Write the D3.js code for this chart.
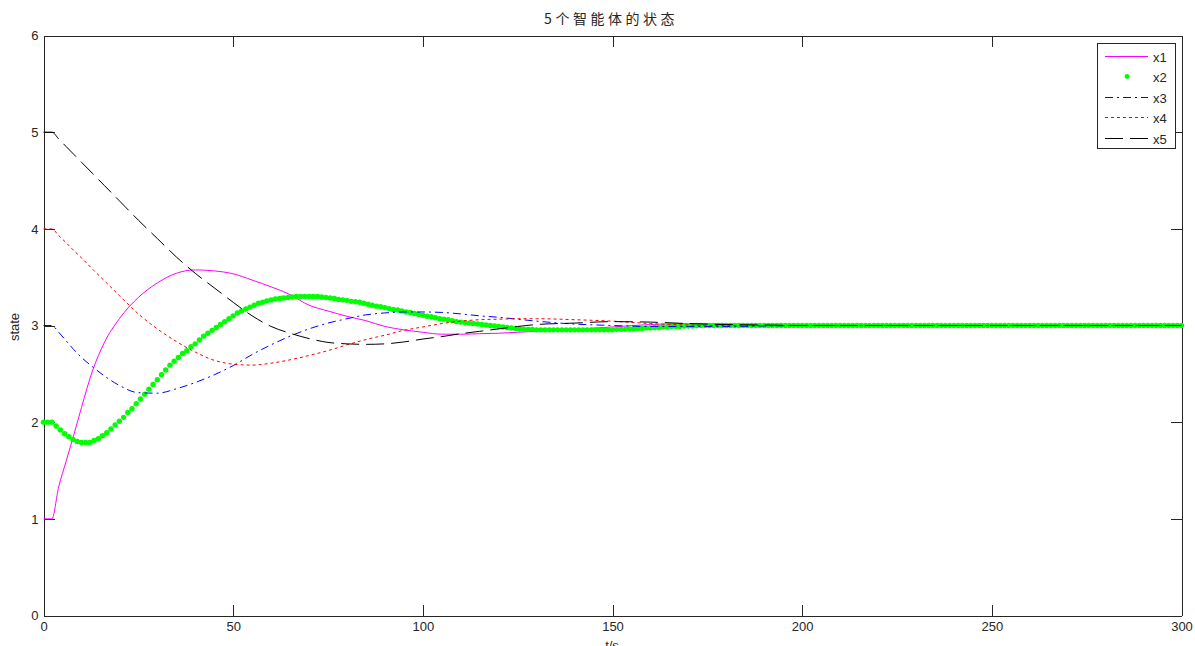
<!DOCTYPE html>
<html lang="zh">
<head>
<meta charset="UTF-8">
<title>5个智能体的状态</title>
<script src="https://cdn.jsdelivr.net/npm/d3@7"></script>
<style>
  body { margin: 0; background: #fff; }
  text { font-family: "Liberation Sans", Arial, sans-serif; fill: #262626; }
</style>
</head>
<body>
<script>
  // sample times for the line series
  var tKnots = [0, 2.2, 4, 6, 8, 10, 13, 16, 20, 25, 30, 35, 40, 45, 50, 55, 60, 65, 70, 75, 80, 85, 90, 95,
    100, 105, 110, 115, 120, 125, 130, 140, 150, 160, 170, 180, 190, 200, 225, 250, 275, 300];

  var x1 = [1.0, 1.0, 1.33, 1.6, 1.87, 2.15, 2.54, 2.82, 3.07, 3.29, 3.44, 3.54, 3.575, 3.565, 3.535, 3.47,
    3.40, 3.32, 3.21, 3.15, 3.095, 3.05, 2.99, 2.955, 2.93, 2.91, 2.91, 2.915, 2.92, 2.93, 2.94,
    2.96, 2.985, 3.01, 3.02, 3.015, 3.01, 3.005, 3.0, 3.0, 3.0, 3.0];
  var x3 = [3.0, 3.0, 2.93, 2.84, 2.75, 2.67, 2.57, 2.48, 2.38, 2.305, 2.30, 2.345, 2.41, 2.49, 2.585, 2.70,
    2.80, 2.89, 2.965, 3.025, 3.07, 3.11, 3.13, 3.14, 3.14, 3.135, 3.12, 3.10, 3.085, 3.065, 3.045,
    3.015, 3.0, 2.99, 2.99, 2.99, 2.995, 3.0, 3.0, 3.0, 3.0, 3.0];
  var x4 = [4.0, 4.0, 3.93, 3.855, 3.775, 3.70, 3.58, 3.465, 3.31, 3.12, 2.965, 2.835, 2.725, 2.64, 2.60, 2.59,
    2.61, 2.645, 2.69, 2.74, 2.80, 2.855, 2.90, 2.95, 2.985, 3.02, 3.045, 3.06, 3.065, 3.07, 3.07,
    3.06, 3.045, 3.02, 3.005, 3.0, 3.0, 3.0, 3.0, 3.0, 3.0, 3.0];
  var x5 = [5.0, 5.0, 4.93, 4.85, 4.77, 4.69, 4.57, 4.45, 4.29, 4.09, 3.90, 3.71, 3.54, 3.39, 3.24, 3.10,
    2.99, 2.92, 2.865, 2.825, 2.81, 2.805, 2.81, 2.83, 2.86, 2.885, 2.915, 2.94, 2.965, 2.99, 3.01,
    3.025, 3.04, 3.035, 3.02, 3.01, 3.005, 3.0, 3.0, 3.0, 3.0, 3.0];

  // x2 is drawn with markers at every solver step (271 steps over 0..300)
  var x2 = [
    2.00, 2.00, 2.00, 1.96, 1.92, 1.88, 1.85, 1.82, 1.80, 1.79,
    1.79, 1.79, 1.81, 1.83, 1.86, 1.89, 1.93, 1.97, 2.01, 2.05,
    2.10, 2.14, 2.19, 2.24, 2.29, 2.34, 2.39, 2.44, 2.49, 2.54,
    2.59, 2.63, 2.67, 2.71, 2.74, 2.78, 2.81, 2.85, 2.89, 2.92,
    2.95, 2.98, 3.01, 3.04, 3.07, 3.10, 3.13, 3.15, 3.17, 3.19,
    3.21, 3.23, 3.24, 3.255, 3.265, 3.275, 3.28, 3.285, 3.29, 3.295,
    3.30, 3.30, 3.30, 3.30, 3.30, 3.30, 3.295, 3.29, 3.285, 3.28,
    3.27, 3.265, 3.26, 3.25, 3.245, 3.24, 3.23, 3.22, 3.21, 3.20,
    3.195, 3.185, 3.175, 3.165, 3.16, 3.15, 3.14, 3.135, 3.125, 3.115,
    3.105, 3.095, 3.09, 3.08, 3.07, 3.065, 3.06, 3.05, 3.04, 3.035,
    3.03, 3.025, 3.02, 3.015, 3.01, 3.005, 3.00, 2.995, 2.99, 2.985,
    2.98, 2.975, 2.97, 2.965, 2.96, 2.96, 2.96, 2.955, 2.955, 2.955,
    2.955, 2.955, 2.955, 2.955, 2.955, 2.955, 2.955, 2.955, 2.955, 2.955,
    2.955, 2.955, 2.955, 2.955, 2.955, 2.955, 2.96, 2.96, 2.96, 2.965,
    2.965, 2.97, 2.97, 2.975, 2.975, 2.98, 2.98, 2.985, 2.985, 2.99,
    2.99, 2.99, 2.995, 2.995, 2.995, 3.00, 3.00, 3.00, 3.00, 3.00,
    3.00, 3.00, 3.00, 3.00, 3.00, 3.00, 3.00, 3.00, 3.00, 3.00,
    3.00, 3.00, 3.00, 3.00, 3.00, 3.00, 3.00, 3.00, 3.00, 3.00,
    3.00, 3.00, 3.00, 3.00, 3.00, 3.00, 3.00, 3.00, 3.00, 3.00,
    3.00, 3.00, 3.00, 3.00, 3.00, 3.00, 3.00, 3.00, 3.00, 3.00,
    3.00, 3.00, 3.00, 3.00, 3.00, 3.00, 3.00, 3.00, 3.00, 3.00,
    3.00, 3.00, 3.00, 3.00, 3.00, 3.00, 3.00, 3.00, 3.00, 3.00,
    3.00, 3.00, 3.00, 3.00, 3.00, 3.00, 3.00, 3.00, 3.00, 3.00,
    3.00, 3.00, 3.00, 3.00, 3.00, 3.00, 3.00, 3.00, 3.00, 3.00,
    3.00, 3.00, 3.00, 3.00, 3.00, 3.00, 3.00, 3.00, 3.00, 3.00,
    3.00, 3.00, 3.00, 3.00, 3.00, 3.00, 3.00, 3.00, 3.00, 3.00,
    3.00, 3.00, 3.00, 3.00, 3.00, 3.00, 3.00, 3.00, 3.00, 3.00,
    3.00
  ];
  var tEnd = 300;

  var xTicks = [0, 50, 100, 150, 200, 250, 300];
  var yTicks = [0, 1, 2, 3, 4, 5, 6];
  var seriesNames = ['x1', 'x2', 'x3', 'x4', 'x5'];

  var W = 1195, H = 646;
  var svg = d3.select('body').append('svg').attr('width', W).attr('height', H);
  svg.append('rect').attr('width', W).attr('height', H).attr('fill', '#fff');

  var x = d3.scaleLinear().domain([0, 300]).range([43.5, 1181.5]);
  var y = d3.scaleLinear().domain([0, 6]).range([615.5, 35.5]);

  // axes box, ticks pointing inward
  var gx = svg.append('g').attr('transform', 'translate(0,615.5)')
    .call(d3.axisBottom(x).tickValues(xTicks).tickFormat(d3.format('d')).tickSizeInner(-11).tickSizeOuter(0).tickPadding(6));
  var gxt = svg.append('g').attr('transform', 'translate(0,35.5)')
    .call(d3.axisTop(x).tickValues(xTicks).tickSizeInner(-11).tickSizeOuter(0).tickFormat(''));
  var gy = svg.append('g').attr('transform', 'translate(43.5,0)')
    .call(d3.axisLeft(y).tickValues(yTicks).tickFormat(d3.format('d')).tickSizeInner(-11).tickSizeOuter(0).tickPadding(5));
  var gyr = svg.append('g').attr('transform', 'translate(1181.5,0)')
    .call(d3.axisRight(y).tickValues(yTicks).tickSizeInner(-11).tickSizeOuter(0).tickFormat(''));
  [gx, gxt, gy, gyr].forEach(function(g){
    g.selectAll('path, line').attr('stroke', '#262626').attr('shape-rendering', 'crispEdges');
    g.selectAll('text').attr('font-size', 13).attr('font-family', '"Liberation Sans", Arial, sans-serif').attr('fill', '#262626');
  });

  var line = d3.line()
    .x(function(d){ return x(d[0]); })
    .y(function(d){ return y(d[1]); })
    .curve(d3.curveMonotoneX);

  function pairs(vals){ return tKnots.map(function(t, i){ return [t, vals[i]]; }); }

  var plot = svg.append('g');

  plot.append('path').datum(pairs(x1)).attr('d', line)
    .attr('fill', 'none').attr('stroke', '#ff00ff').attr('stroke-width', 1);

  var x2pts = x2.map(function(v, i){ return [i * tEnd / (x2.length - 1), v]; });
  plot.append('g').selectAll('circle').data(x2pts).enter().append('circle')
    .attr('cx', function(d){ return x(d[0]); })
    .attr('cy', function(d){ return y(d[1]); })
    .attr('r', 2.7)
    .attr('fill', '#00ff00');

  plot.append('path').datum(pairs(x3)).attr('d', line)
    .attr('fill', 'none').attr('stroke', '#0000ff').attr('stroke-width', 1)
    .attr('stroke-dasharray', '8,4,2,4');
  plot.append('path').datum(pairs(x4)).attr('d', line)
    .attr('fill', 'none').attr('stroke', '#ff0000').attr('stroke-width', 1)
    .attr('stroke-dasharray', '3,3');
  plot.append('path').datum(pairs(x5)).attr('d', line)
    .attr('fill', 'none').attr('stroke', '#000000').attr('stroke-width', 1)
    .attr('stroke-dasharray', '18,7');

  // title and axis labels
  svg.append('text').attr('x', 611).attr('y', 24).attr('text-anchor', 'middle')
    .attr('font-size', 14).attr('letter-spacing', '3.5px')
    .style('font-family', '"Noto Sans CJK SC", sans-serif')
    .text('5个智能体的状态');
  svg.append('text').attr('transform', 'translate(19,327) rotate(-90)').attr('text-anchor', 'middle')
    .attr('font-size', 13).text('state');
  svg.append('text').attr('x', 612).attr('y', 650).attr('text-anchor', 'middle')
    .attr('font-size', 13).text('t/s');

  // legend
  var lg = svg.append('g');
  lg.append('rect').attr('x', 1097.5).attr('y', 43.5).attr('width', 78).attr('height', 105)
    .attr('fill', '#fff').attr('stroke', '#262626').attr('shape-rendering', 'crispEdges');
  var ly = d3.scalePoint().domain(seriesNames).range([56, 137.5]);
  var styles = {
    x1: { stroke: '#ff00ff', dash: null },
    x3: { stroke: '#0000ff', dash: '8,4,2,4' },
    x4: { stroke: '#ff0000', dash: '3,3' },
    x5: { stroke: '#000000', dash: '18,7' }
  };
  seriesNames.forEach(function(name){
    var yy = Math.round(ly(name)) + 0.5;
    if (name === 'x2') {
      lg.append('circle').attr('cx', 1127).attr('cy', yy).attr('r', 2.4).attr('fill', '#00ff00');
    } else {
      lg.append('line').attr('x1', 1105).attr('x2', 1148).attr('y1', yy).attr('y2', yy)
        .attr('stroke', styles[name].stroke).attr('stroke-dasharray', styles[name].dash)
        .attr('shape-rendering', 'crispEdges');
    }
    lg.append('text').attr('x', 1153).attr('y', yy + 5).attr('font-size', 13).text(name);
  });
</script>
</body>
</html>
